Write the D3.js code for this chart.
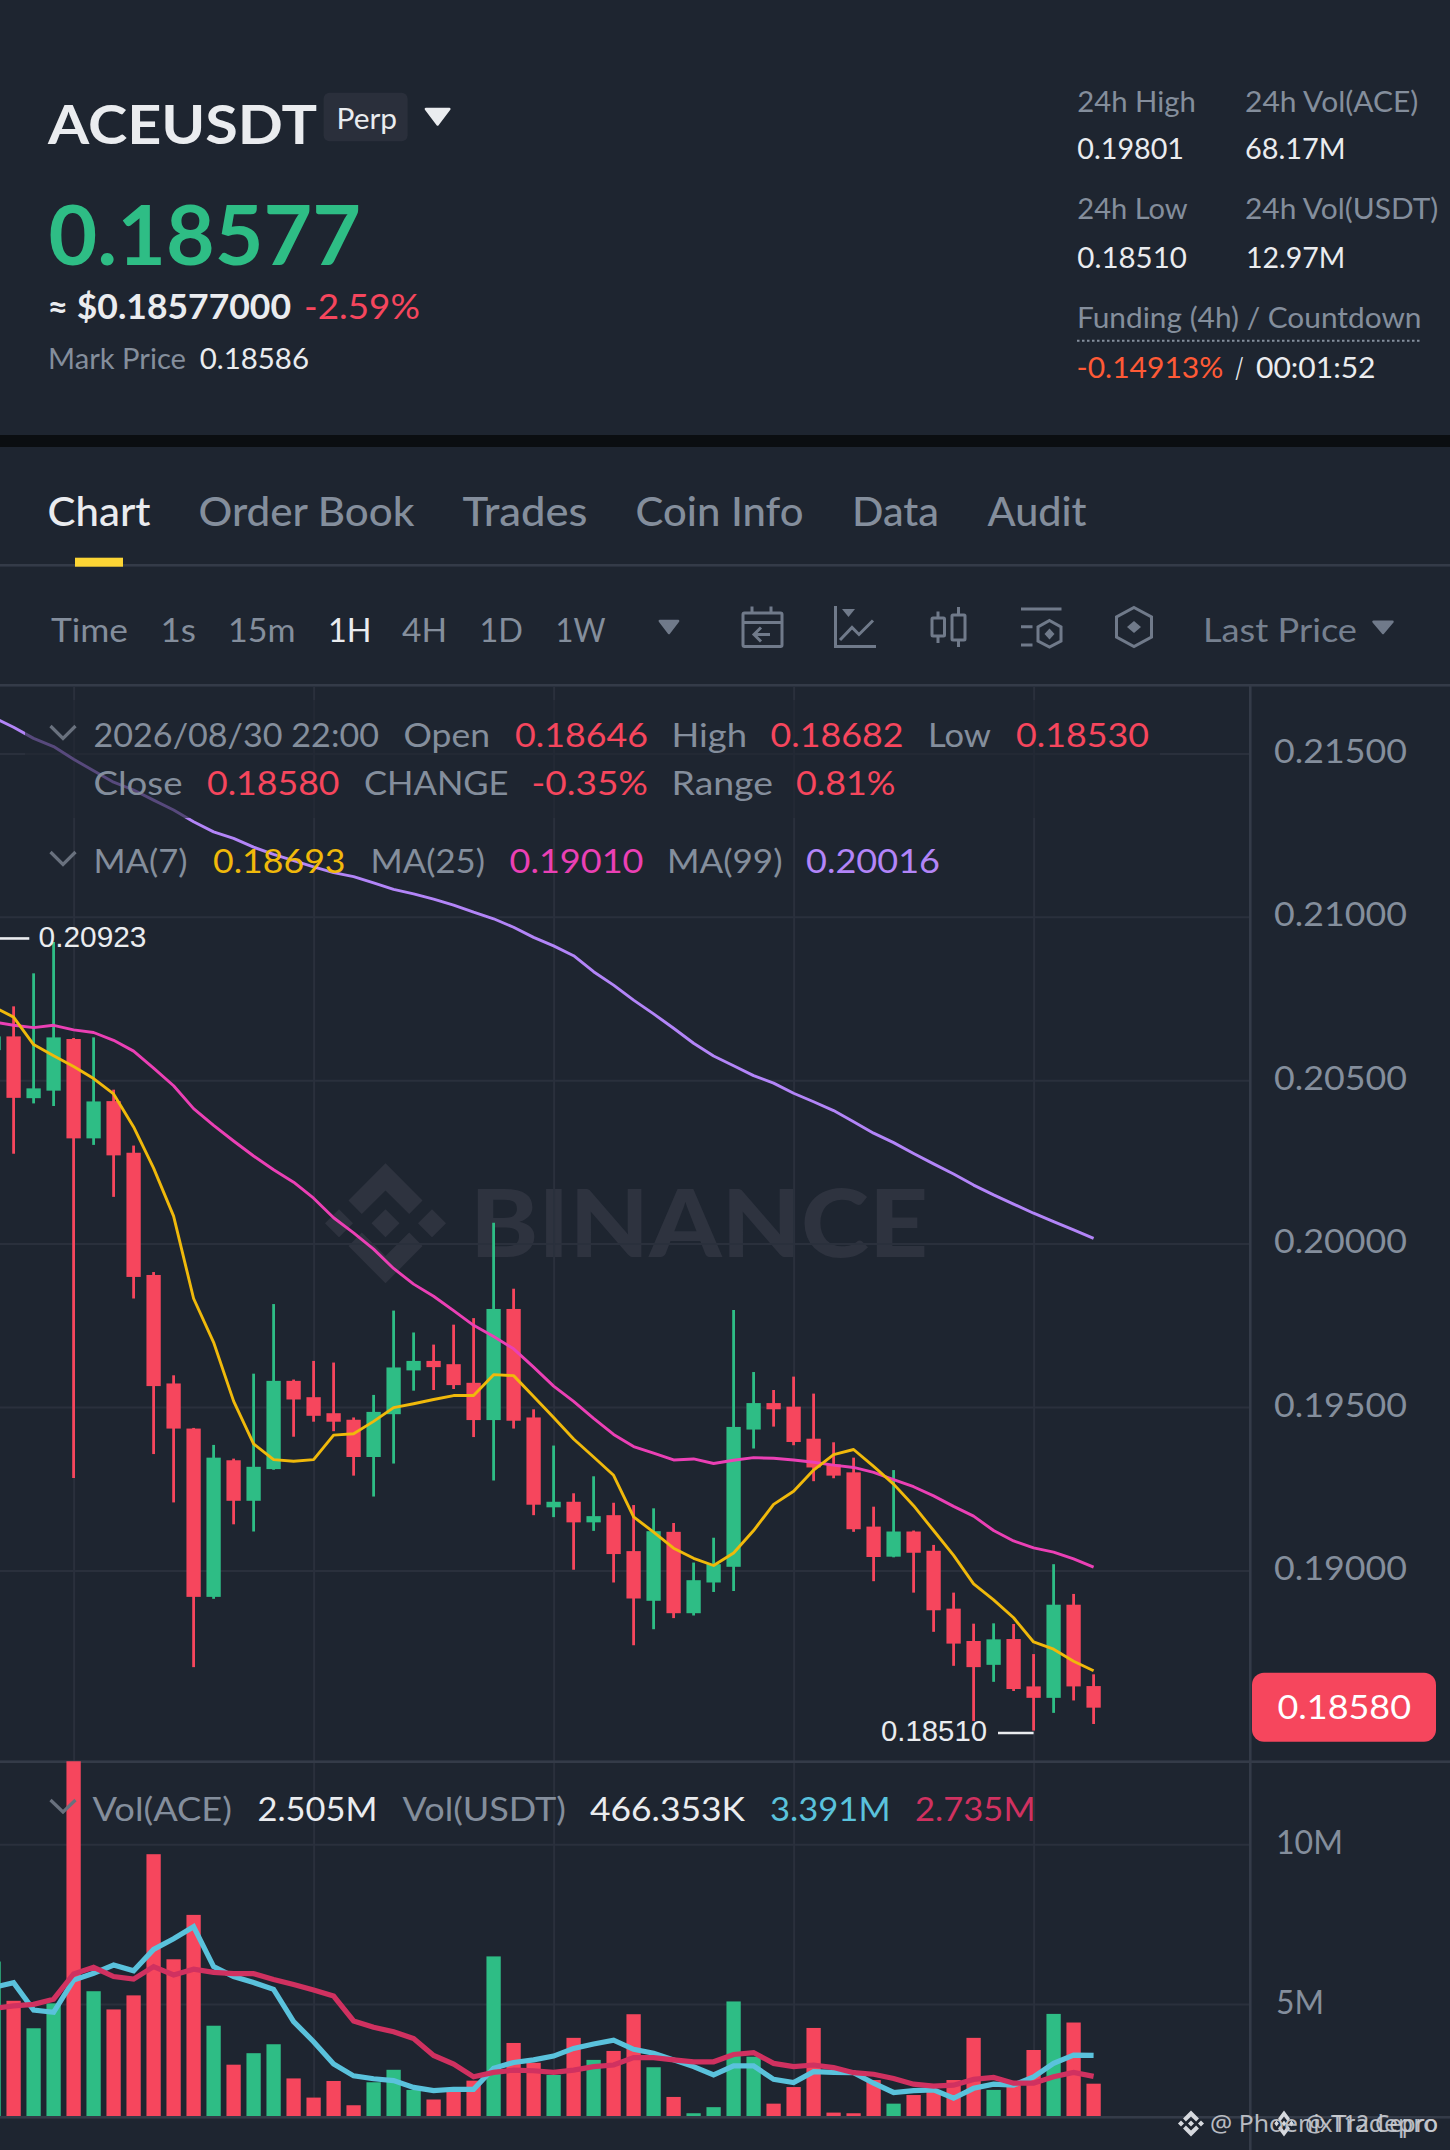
<!DOCTYPE html>
<html>
<head>
<meta charset="utf-8">
<script src="https://cdn.jsdelivr.net/npm/d3@7"></script>
<style>
html,body{margin:0;padding:0;background:#1e2530;overflow:hidden}
svg{display:block}
text{font-family:Lato,"Open Sans",sans-serif}
</style>
</head>
<body>
<script>
// ---------- data (candle index -1 .. 54, hourly) ----------
const candleIndex = d3.range(-1, 55);
const opens = [.20592,.20634,.20445,.20468,.20626,.20322,.20436,.20278,.19904,.19572,.19434,.18919,.19337,.19213,.19310,.19580,.19530,.19481,.19461,.19347,.19478,.19612,.19641,.19631,.19574,.19460,.19800,.19468,.19193,.19210,.19147,.19169,.19059,.18907,.19118,.18869,.18963,.19011,.19431,.19512,.19501,.19403,.19324,.19300,.19134,.19042,.19119,.19060,.18883,.18784,.18711,.18790,.18645,.18610,.18895,.18646];
const closes = [.20634,.20446,.20475,.20631,.20322,.20435,.20270,.19898,.19564,.19434,.18919,.19345,.19213,.19317,.19580,.19523,.19473,.19455,.19347,.19485,.19621,.19641,.19622,.19567,.19460,.19800,.19458,.19201,.19210,.19147,.19166,.19050,.18914,.19120,.18869,.18970,.19019,.19439,.19512,.19493,.19393,.19315,.19290,.19126,.19041,.19119,.19054,.18878,.18776,.18704,.18789,.18637,.18610,.18895,.18645,.18580];
const highs = [.20650,.20726,.20827,.20923,.20629,.20631,.20471,.20300,.19913,.19597,.19436,.19384,.19342,.19602,.19815,.19584,.19641,.19636,.19468,.19537,.19795,.19728,.19691,.19752,.19772,.20064,.19862,.19493,.19382,.19236,.19288,.19207,.19200,.19190,.19145,.19024,.19100,.19797,.19607,.19552,.19593,.19541,.19392,.19345,.19195,.19307,.19122,.19078,.18932,.18837,.18838,.18836,.18744,.19019,.18928,.18682];
const lows = [.20570,.20275,.20429,.20421,.19283,.20302,.20143,.19832,.19356,.19208,.18704,.18913,.19141,.19119,.19308,.19409,.19455,.19426,.19290,.19226,.19327,.19550,.19552,.19555,.19408,.19275,.19434,.19169,.19163,.19002,.19121,.18963,.18771,.18820,.18854,.18862,.18934,.18937,.19373,.19440,.19383,.19273,.19282,.19118,.18967,.19040,.18932,.18812,.18708,.18539,.18659,.18631,.18510,.18564,.18602,.18530];
const ma7 = [.20725,.20693,.20609,.20575,.20542,.20505,.20458,.20357,.20231,.20084,.19832,.19698,.19518,.19387,.19339,.19334,.19339,.19414,.19418,.19456,.19498,.19510,.19523,.19535,.19535,.19599,.19596,.19532,.19468,.19402,.19347,.19291,.19164,.19117,.19068,.19037,.19015,.19053,.19122,.19202,.19242,.19307,.19354,.19370,.19318,.19264,.19198,.19122,.19046,.18959,.18910,.18855,.18781,.18759,.18722,.18693];
const ma25 = [.20678,.20668,.20661,.20668,.20654,.20646,.20622,.20589,.20537,.20483,.20413,.20362,.20314,.20268,.20226,.20188,.20139,.20079,.20033,.19983,.19924,.19876,.19839,.19795,.19750,.19716,.19678,.19622,.19564,.19517,.19465,.19416,.19379,.19359,.19338,.19341,.19327,.19337,.19345,.19343,.19338,.19331,.19322,.19315,.19300,.19278,.19256,.19228,.19196,.19166,.19122,.19090,.19069,.19056,.19035,.19010];
const ma99 = [.21610,.21580,.21546,.21521,.21482,.21447,.21412,.21388,.21357,.21327,.21291,.21260,.21240,.21213,.21191,.21172,.21153,.21135,.21123,.21104,.21084,.21070,.21054,.21036,.21014,.20994,.20968,.20937,.20911,.20881,.20832,.20791,.20745,.20703,.20659,.20613,.20574,.20544,.20514,.20491,.20460,.20434,.20407,.20373,.20338,.20309,.20276,.20244,.20213,.20179,.20149,.20121,.20093,.20067,.20042,.20016];
const volumes = [6.33,5.10,4.24,5.02,12.6,5.40,4.83,5.27,9.69,6.40,7.79,4.32,3.10,3.46,3.74,2.67,2.07,2.59,1.83,2.55,2.94,2.31,2.01,2.25,2.60,6.49,3.78,3.16,2.78,3.94,3.25,3.53,4.68,3.02,2.09,1.58,1.77,5.08,3.35,1.88,2.40,4.25,1.60,1.58,2.62,1.88,2.15,2.31,2.62,3.94,2.31,2.46,3.56,4.69,4.42,2.505];
const volMaFast = [5.52,5.67,4.81,4.74,5.75,5.96,6.22,6.04,6.71,7.04,7.42,6.17,5.86,5.67,5.46,4.45,3.82,3.12,2.75,2.66,2.60,2.39,2.29,2.33,2.33,2.99,3.17,3.25,3.37,3.61,3.75,3.87,3.58,3.46,3.25,3.04,2.78,3.06,3.06,2.64,2.54,2.88,2.86,2.85,2.52,2.23,2.29,2.31,2.05,2.36,2.49,2.46,2.72,3.14,3.40,3.391];
const volMaSlow = [4.86,4.94,4.99,5.15,5.94,6.15,5.86,5.78,6.17,5.91,6.09,5.99,5.95,5.95,5.77,5.61,5.44,5.25,4.47,4.27,4.13,3.92,3.39,3.12,2.72,2.86,2.93,2.91,2.86,2.93,3.04,3.09,3.32,3.32,3.25,3.19,3.19,3.42,3.48,3.14,3.04,3.09,3.01,2.85,2.80,2.67,2.49,2.43,2.46,2.64,2.70,2.52,2.52,2.72,2.86,2.735];
const priceTicks = [0.19,0.195,0.20,0.205,0.21,0.215];
const volumeTicks = [5,10];
const gridCandles = [3,15,27,39,51];
const lastPrice = 0.18580, highLabel = 0.20923, lowLabel = 0.18510;

// ---------- palette ----------
const BG='#1e2530',GREEN='#2ebd85',RED='#f6465d',GRID='#2a303c',SEP='#343b48',
      WHITE='#eaecef',GREY='#848e9c',ICON='#707a8a',YEL='#f0b90b',PINK='#eb40b5',
      PURPLE='#b385f8',BLUE='#5ac2dc',CRIM='#d03160',MARK='#2e333f';

const svg=d3.select('body').append('svg').attr('width',1450).attr('height',2150);
svg.append('rect').attr('width',1450).attr('height',2150).attr('fill',BG);

// scales
const x=d3.scaleLinear().domain([-1,54]).range([-6.4,1093.6]);
const y=d3.scaleLinear().domain([0.19,0.215]).range([1570.4,753.4]);
const yV=d3.scaleLinear().domain([5,10]).range([2004,1844.3]);
const volBase=2117.3;

const defs=svg.append('defs');
defs.append('clipPath').attr('id','cp').append('rect').attr('x',0).attr('y',687).attr('width',1250).attr('height',1074);
defs.append('clipPath').attr('id','cv').append('rect').attr('x',0).attr('y',1761).attr('width',1250).attr('height',volBase-1761);

function label(str,x0,x1,base,size,color,weight,family){
  const t=svg.append('text').text(str).attr('x',x0).attr('y',base+0.8).attr('font-size',size)
    .attr('fill',color).attr('font-weight',weight||400);
  if(x1){t.attr('textLength',x1-x0).attr('lengthAdjust','spacingAndGlyphs');}
  if(family)t.style('font-family',family);
  return t;
}
function tri(x0,x1,y0,y1,color){
  const mx=(x0+x1)/2;
  svg.append('path').attr('d',`M${x0+1.5},${y0+1}L${x1-1.5},${y0+1}L${mx},${y1-1}Z`)
    .attr('fill',color).attr('stroke',color).attr('stroke-width',2.5).attr('stroke-linejoin','round');
}
function chevron(x0,x1,y0,y1){
  svg.append('path').attr('d',`M${x0},${y0}L${(x0+x1)/2},${y1}L${x1},${y0}`).attr('fill','none')
    .attr('stroke','#69717e').attr('stroke-width',3.2);
}
function logo(g,cx,cy,sx,sy,color){
  const top='M0,-60L37,-22.7L23.7,-9.3L0,-32.7L-23.7,-9.3L-37,-22.7Z';
  const bot='M0,60L37,22.7L23.7,9.3L0,32.7L-23.7,9.3L-37,22.7Z';
  const dia=(c)=>`M${c-14},0L${c},-14L${c+14},0L${c},14Z`;
  g.append('path').attr('transform',`translate(${cx},${cy}) scale(${sx},${sy})`)
    .attr('d',top+bot+dia(0)+dia(-46.5)+dia(46.5)).attr('fill',color);
}

// ---------- header ----------
svg.append('rect').attr('x',0).attr('y',435).attr('width',1450).attr('height',12).attr('fill','#0b0e11');
label('ACEUSDT',48,317,143,54,WHITE,700);
svg.append('rect').attr('x',323.6).attr('y',92.7).attr('width',84).attr('height',48.5).attr('rx',6).attr('fill','#2a2f3b');
label('Perp',336.5,397,128,29,WHITE,400);
tri(424.4,450.8,108,125.5,WHITE);
label('0.18577',48.5,361,264.5,82,GREEN,700);
label('≈ $0.18577000',47.5,291,317.7,34,WHITE,700);
label('-2.59%',304,420,317.7,34,RED,400);
label('Mark Price',48,186,368,28,GREY,400);
label('0.18586',199.7,309,368,28,WHITE,400);

label('24h High',1077.3,1195.7,110.7,28,GREY);
label('24h Vol(ACE)',1245,1418.3,110.7,28,GREY);
label('0.19801',1077.3,1184,158.3,28,WHITE);
label('68.17M',1245,1345.7,158.3,28,WHITE);
label('24h Low',1077.3,1187.7,218.3,28,GREY);
label('24h Vol(USDT)',1245,1438.3,218.3,28,GREY);
label('0.18510',1077.3,1187,266.7,28,WHITE);
label('12.97M',1246,1345.3,266.7,28,WHITE);
label('Funding (4h) / Countdown',1077,1421.5,326.7,28,GREY);
svg.append('line').attr('x1',1077).attr('x2',1422).attr('y1',340.7).attr('y2',340.7)
  .attr('stroke',GREY).attr('stroke-width',2).attr('stroke-dasharray','2.5 2.5');
label('-0.14913%',1076.5,1223.3,377.3,28,'#ff5a36');
label('/',1235,1243.5,377.3,28,WHITE);
label('00:01:52',1256,1375.5,377.3,28,WHITE);

// ---------- tabs ----------
label('Chart',47.5,150.5,525,40,WHITE,500);
label('Order Book',198.5,414.5,525,40,GREY,500);
label('Trades',462.5,587.5,525,40,GREY,500);
label('Coin Info',635.5,803.5,525,40,GREY,500);
label('Data',852,939,525,40,GREY,500);
label('Audit',987.5,1086.5,525,40,GREY,500);
svg.append('rect').attr('x',0).attr('y',564).attr('width',1450).attr('height',2.6).attr('fill',SEP);
svg.append('rect').attr('x',75).attr('y',557.7).attr('width',48).attr('height',9).attr('fill','#fcd535');
svg.append('rect').attr('x',0).attr('y',684).attr('width',1450).attr('height',2.6).attr('fill',SEP);

// ---------- timeframe row ----------
label('Time',51,128,641,33,GREY);
label('1s',160.5,196,641,33,GREY);
label('15m',228,295.5,641,33,GREY);
label('1H',328,371.5,641,33,WHITE);
label('4H',402,447,641,33,GREY);
label('1D',479.5,523,641,33,GREY);
label('1W',555.5,605.5,641,33,GREY);
tri(658.3,679.6,620,634,ICON);
label('Last Price',1203,1357,641,33,'#76808f');
tri(1372,1394,620.7,634,ICON);

const ic=svg.append('g').attr('fill','none').attr('stroke',ICON).attr('stroke-width',3);
ic.append('rect').attr('x',743).attr('y',613).attr('width',39).attr('height',33.5).attr('rx',1.5);
ic.append('path').attr('d','M743,622.5H782M752,606.5V613M771,606.5V613M770,634.5H754M761,627.5L754,634.5L761,641.5');
ic.append('path').attr('d','M835.5,606V646.5H876M840,640L852,627.5L859,634.5L873,620.5');
ic.append('path').attr('d','M842,609H855L848.5,617Z').attr('fill',ICON).attr('stroke','none');
ic.append('rect').attr('x',932).attr('y',618).attr('width',12.5).attr('height',18).attr('rx',1);
ic.append('rect').attr('x',952).attr('y',615).attr('width',13).attr('height',25).attr('rx',1);
ic.append('path').attr('d','M938,611.5V618M938,636V643M958.5,607V615M958.5,640V647');
ic.append('path').attr('d','M1021,609H1061.5M1021,626.7H1032.5M1021,645H1032.5');
ic.append('path').attr('d','M1049.5,620.5L1061,627V641L1049.5,647L1038,641V627Z');
ic.append('path').attr('d','M1049.5,628.5L1054.5,634L1049.5,639.5L1044.5,634Z').attr('fill',ICON).attr('stroke','none');
ic.append('path').attr('d','M1134,607.5L1151.5,617V637L1134,646.5L1116.5,637V617Z');
ic.append('path').attr('d','M1134,621L1141,627L1134,633L1127,627Z').attr('fill',ICON).attr('stroke','none');

// ---------- watermark ----------
logo(svg.append('g'),385.5,1223.3,1,1,MARK);
label('BINANCE',470,928,1256.5,93,MARK,900);

// ---------- grids, through d3 axes ----------
function cleanGrid(sel,color){
  sel.select('.domain').remove();
  sel.selectAll('.tick line').attr('stroke',color||GRID).attr('stroke-width',2);
  sel.selectAll('.tick text').remove();
}
svg.append('g').attr('transform','translate(1250,0)')
  .call(d3.axisLeft(y).tickValues(priceTicks).tickSize(1250)).call(cleanGrid);
svg.append('g').attr('transform','translate(1250,0)')
  .call(d3.axisLeft(yV).tickValues(volumeTicks).tickSize(1250)).call(cleanGrid);
svg.append('g').attr('transform','translate(0,687)')
  .call(d3.axisBottom(x).tickValues(gridCandles).tickSize(1074)).call(cleanGrid);
svg.append('g').attr('transform','translate(0,1763)')
  .call(d3.axisBottom(x).tickValues(gridCandles).tickSize(volBase-1763)).call(cleanGrid);

// ---------- candles ----------
const up=i=>closes[i]>=opens[i];
const cg=svg.append('g').attr('clip-path','url(#cp)');
cg.selectAll('line.w').data(candleIndex).join('line').attr('class','w')
  .attr('x1',d=>x(d)).attr('x2',d=>x(d))
  .attr('y1',d=>y(highs[d+1])).attr('y2',d=>y(lows[d+1]))
  .attr('stroke',d=>up(d+1)?GREEN:RED).attr('stroke-width',2.8);
cg.selectAll('rect.b').data(candleIndex).join('rect').attr('class','b')
  .attr('x',d=>x(d)-7.15).attr('width',14.3)
  .attr('y',d=>y(Math.max(opens[d+1],closes[d+1])))
  .attr('height',d=>Math.abs(y(opens[d+1])-y(closes[d+1])))
  .attr('fill',d=>up(d+1)?GREEN:RED);

const priceLine=d3.line().x((d,i)=>x(candleIndex[i])).y(d=>y(d));
[[ma99,PURPLE],[ma25,PINK],[ma7,YEL]].forEach(([s,c])=>{
  cg.append('path').attr('d',priceLine(s)).attr('fill','none').attr('stroke',c).attr('stroke-width',2.9).attr('stroke-linejoin','round');
});

// ---------- high / low flags ----------
svg.append('line').attr('x1',0).attr('x2',29.3).attr('y1',y(highLabel)-3.5).attr('y2',y(highLabel)-3.5).attr('stroke',WHITE).attr('stroke-width',2.6);
label(d3.format('.5f')(highLabel),38.6,146.4,945.7,29,WHITE,400,'"Liberation Sans"');
svg.append('line').attr('x1',998).attr('x2',1033.6).attr('y1',y(lowLabel)+2.4).attr('y2',y(lowLabel)+2.4).attr('stroke',WHITE).attr('stroke-width',2.6);
label(d3.format('.5f')(lowLabel),881,987,1740.5,29,WHITE,400,'"Liberation Sans"');

// ---------- legend ----------
svg.append('rect').attr('x',25).attr('y',700).attr('width',1135).attr('height',118).attr('fill',BG).attr('opacity',.62);
chevron(50.5,75.5,726,738.5);
label('2026/08/30 22:00',93.5,379,746,32,GREY);
label('Open',403.5,490,746,32,GREY);
label('0.18646',515,648,746,32,RED);
label('High',671.5,747,746,32,GREY);
label('0.18682',770.5,903.5,746,32,RED);
label('Low',928,991,746,32,GREY);
label('0.18530',1016,1149,746,32,RED);
label('Close',93.5,182.5,794.3,32,GREY);
label('0.18580',207,339.5,794.3,32,RED);
label('CHANGE',364,508.5,794.3,32,GREY);
label('-0.35%',531.5,648,794.3,32,RED);
label('Range',671.5,773,794.3,32,GREY);
label('0.81%',796,895.5,794.3,32,RED);
chevron(50.5,75.5,852,864.5);
label('MA(7)',93.5,187.5,871.7,32,GREY);
label('0.18693',213,345.5,871.7,32,YEL);
label('MA(25)',370.5,485,871.7,32,GREY);
label('0.19010',509.5,643.5,871.7,32,PINK);
label('MA(99)',667,782.5,871.7,32,GREY);
label('0.20016',806,940,871.7,32,PURPLE);

// ---------- volume ----------
const vg=svg.append('g').attr('clip-path','url(#cv)');
vg.selectAll('rect').data(candleIndex).join('rect')
  .attr('x',d=>x(d)-7.15).attr('width',14.3)
  .attr('y',d=>yV(volumes[d+1])).attr('height',d=>volBase-yV(volumes[d+1]))
  .attr('fill',d=>up(d+1)?GREEN:RED);

// ---------- panel rules (volume bars and lines sit over the top rule) ----------
svg.append('rect').attr('x',0).attr('y',2116).attr('width',1450).attr('height',2.6).attr('fill',SEP);
svg.append('rect').attr('x',1249).attr('y',686).attr('width',2.6).attr('height',1464).attr('fill',SEP);
svg.insert('rect','g[clip-path="url(#cv)"]').attr('x',0).attr('y',1760.4).attr('width',1450).attr('height',2.6).attr('fill',SEP);

const vl=svg.append('g').attr('clip-path','url(#cv)');
const volLine=d3.line().x((d,i)=>x(candleIndex[i])).y(d=>yV(d));
[[volMaFast,BLUE],[volMaSlow,CRIM]].forEach(([s,c])=>{
  vl.append('path').attr('d',volLine(s)).attr('fill','none').attr('stroke',c).attr('stroke-width',5.2).attr('stroke-linejoin','miter');
});
chevron(50.5,75.5,1800,1812);
label('Vol(ACE)',92.5,232,1820.3,32,GREY);
label('2.505M',257.5,377.5,1820.3,32,WHITE);
label('Vol(USDT)',402.5,566,1820.3,32,GREY);
label('466.353K',590,745,1820.3,32,WHITE);
label('3.391M',770,890.5,1820.3,32,BLUE);
label('2.735M',915,1035.5,1820.3,32,CRIM);

// ---------- axis labels, through d3 axes ----------
const pAxis=svg.append('g').attr('transform','translate(1274,0)')
  .call(d3.axisRight(y).tickValues(priceTicks).tickSize(0).tickFormat(d3.format('.5f')));
pAxis.select('.domain').remove();
pAxis.selectAll('.tick text').attr('fill',GREY).attr('font-size',32).attr('text-anchor','start')
  .attr('x',0).attr('dy',null).attr('y',9).attr('textLength',133).attr('lengthAdjust','spacingAndGlyphs');
const vAxis=svg.append('g').attr('transform','translate(1276,0)')
  .call(d3.axisRight(yV).tickValues(volumeTicks).tickSize(0).tickFormat(d=>d+'M'));
vAxis.select('.domain').remove();
vAxis.selectAll('.tick text').attr('fill',GREY).attr('font-size',32).attr('text-anchor','start')
  .attr('x',0).attr('dy',null).attr('y',9.3)
  .attr('textLength',d=>d===10?67:48).attr('lengthAdjust','spacingAndGlyphs');
svg.selectAll('g.tick text').style('font-family','Lato');

svg.append('rect').attr('x',1252).attr('y',1672.7).attr('width',184).attr('height',69).attr('rx',12).attr('fill',RED);
label(d3.format('.5f')(lastPrice),1277.5,1411,1718,32,'#ffffff');

// ---------- footer handles ----------
logo(svg.append('g'),1191,2123.5,.215,.215,'#d6d9de');
logo(svg.append('g'),1284,2123.5,.16,.215,'#d6d9de');
label('@ PhoenixTradepro',1210,1438,2131,24,'#c9ccd2',400,'"Noto Sans"').attr('opacity',.9);
label('@ T12 Cepro',1305,1438,2131,24,'#c9ccd2',400,'"Noto Sans"').attr('opacity',.9);
</script>
</body>
</html>
